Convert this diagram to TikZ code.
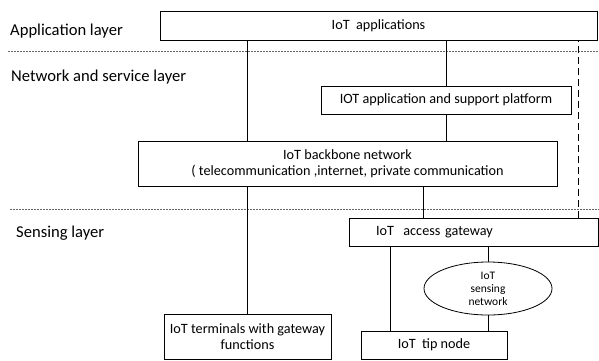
\documentclass[tikz,border=0pt]{standalone}
\usepackage{fontspec}
\setmainfont{Carlito}
\usetikzlibrary{calc}
\usetikzlibrary{positioning}
\usetikzlibrary{shapes.geometric}
\tikzstyle{boxnode} = [draw, line width=0.8pt, fill=white, inner sep=0pt, align=center, font=\fontsize{14.2}{16}\selectfont]
\tikzstyle{ellnode} = [draw, ellipse, line width=0.8pt, fill=white, inner sep=0pt, align=center, font=\fontsize{11.5}{13}\selectfont]
\tikzstyle{layerlabel} = [anchor=west, inner sep=0pt, font=\fontsize{16.6}{18}\selectfont]
\tikzstyle{layerline} = [line width=0.6pt, dash pattern=on 2pt off 1pt, gray!80!black]
\tikzstyle{link} = [line width=0.8pt]

\begin{document}
\begin{tikzpicture}[x=1pt, y=-1pt]
  \useasboundingbox (0,0) rectangle (599,360);

  % layer borders
  \draw[layerline] (8,51) -- (599,51);
  \draw[layerline] (10,209) -- (599,209);

  \node[layerlabel] (applbl) at (10,31) {Application layer};
  \node[layerlabel] (netlbl) at (11,77) {Network and service layer};
  \node[layerlabel] (senslbl) at (16,233) {Sensing layer};

  \node[boxnode, minimum width=437pt, minimum height=29pt] (app) at (378.5,25.5) {IoT\ \ applications};
  \node[boxnode, minimum width=250pt, minimum height=28pt] (plat) at (446,100) {IOT application and support platform};
  \node[boxnode, minimum width=419pt, minimum height=45pt] (bb) at (347.5,163.5)
    {IoT backbone network\\( telecommunication ,internet, private communication};
  \node[boxnode, minimum width=249pt, minimum height=28pt, text width=195pt, align=left] (gw) at (473.5,232) {IoT\ \ access gateway};
  \node[ellnode, minimum width=128pt, minimum height=53pt] (sens) at (488,288.5) {IoT\\sensing\\network};
  \node[boxnode, minimum width=167pt, minimum height=45pt] (term) at (247.5,336.5) {IoT terminals with gateway\\functions};
  \node[boxnode, minimum width=146pt, minimum height=28pt] (tip) at (434,345) {IoT\ \ tip node};

  \draw[link] (app.south -| term.north) -- (bb.north -| term.north);
  \draw[link] (bb.south -| term.north) -- (term.north);
  \draw[link] (app.south -| plat.north) -- (plat.north);
  \draw[link] (plat.south) -- (plat.south |- bb.north);
  \draw[link] ([xshift=-50pt]gw.north) -- ([xshift=-50pt]gw.north |- bb.south);
  \draw[link, dash pattern=on 7pt off 4pt] ([xshift=-20pt]gw.north east) -- ([xshift=-20pt]gw.north east |- app.south);
  \draw[link] ([xshift=-83pt]gw.south) -- ([xshift=-83pt]gw.south |- tip.north);
  \draw[link] (sens.north) -- (sens.north |- gw.south);
  \draw[link] (sens.south) -- (sens.south |- tip.north);
\end{tikzpicture}
\end{document}
